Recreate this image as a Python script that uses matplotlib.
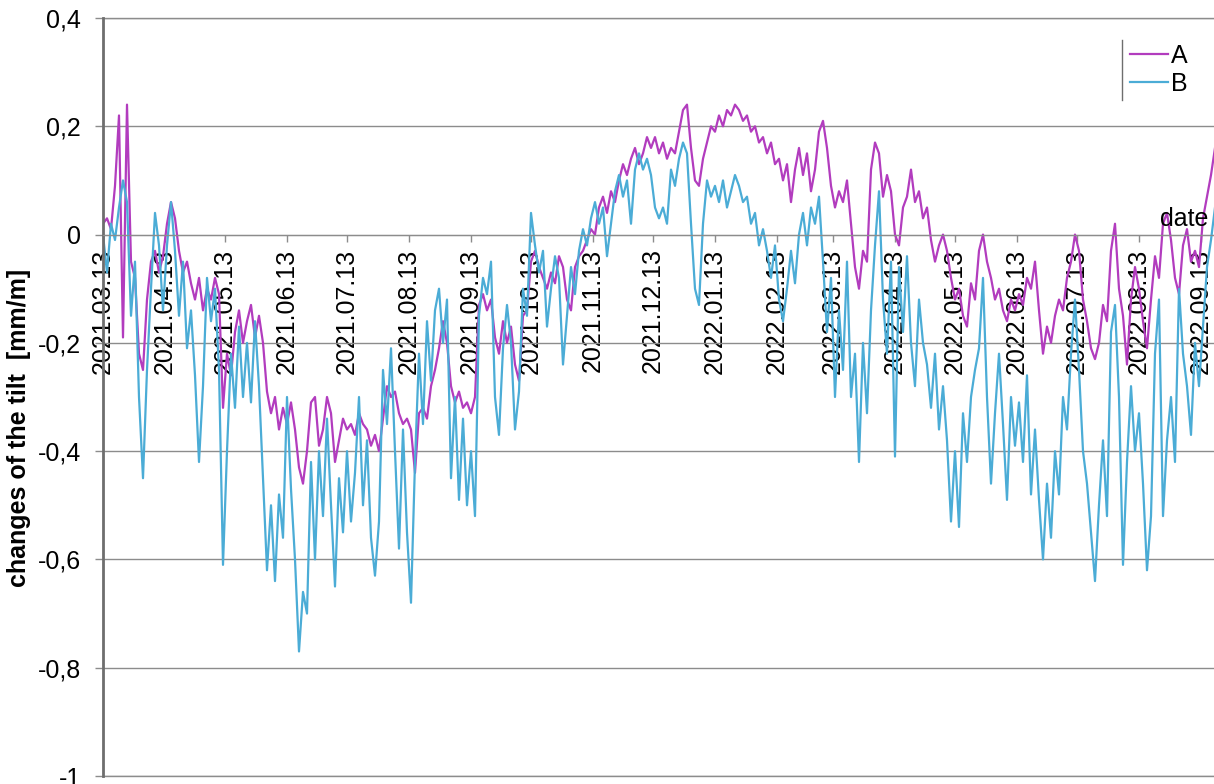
"""
tilt changes of sensors A and B, 2021.03 - 2022.09
"""
import numpy as np
import matplotlib
matplotlib.use('Agg')
import matplotlib.pyplot as plt
import matplotlib.dates as mdates
import matplotlib.transforms as mtransforms

plt.rcParams['font.family'] = ['Liberation Sans', 'DejaVu Sans']
FONTSIZE = 18

# one reading every STEP_DAYS days, starting at START
START = np.datetime64('2021-03-13')
STEP_DAYS = 2

tilt_A = [0.02, 0.03, 0.01, 0.09, 0.22, -0.19, 0.24, -0.05, -0.08, -0.22, -0.25, -0.12, -0.05, -0.03, -0.07, -0.04,
          0.02, 0.06, 0.03, -0.03, -0.07, -0.05, -0.09, -0.12, -0.08, -0.14, -0.10, -0.12, -0.08, -0.11, -0.32,
          -0.22, -0.26, -0.18, -0.14, -0.20, -0.16, -0.13, -0.19, -0.15, -0.20, -0.29, -0.33, -0.30, -0.36, -0.32,
          -0.35, -0.31, -0.36, -0.43, -0.46, -0.40, -0.31, -0.30, -0.39, -0.36, -0.30, -0.33, -0.42, -0.38, -0.34,
          -0.36, -0.35, -0.37, -0.33, -0.35, -0.36, -0.39, -0.37, -0.40, -0.34, -0.28, -0.30, -0.29, -0.33, -0.35,
          -0.34, -0.36, -0.44, -0.33, -0.32, -0.34, -0.28, -0.25, -0.21, -0.16, -0.20, -0.28, -0.31, -0.29, -0.32,
          -0.31, -0.33, -0.30, -0.13, -0.11, -0.14, -0.12, -0.19, -0.22, -0.16, -0.20, -0.17, -0.24, -0.27, -0.15,
          -0.14, -0.05, -0.03, -0.06, -0.08, -0.10, -0.07, -0.09, -0.04, -0.06, -0.12, -0.14, -0.06, -0.04, -0.03,
          -0.01, 0.01, 0.00, 0.05, 0.07, 0.04, 0.08, 0.06, 0.10, 0.13, 0.11, 0.14, 0.16, 0.13, 0.15,
          0.18, 0.16, 0.18, 0.15, 0.17, 0.14, 0.16, 0.15, 0.19, 0.23, 0.24, 0.16, 0.10, 0.09, 0.14,
          0.17, 0.20, 0.19, 0.22, 0.20, 0.23, 0.22, 0.24, 0.23, 0.21, 0.22, 0.19, 0.20, 0.17, 0.18,
          0.15, 0.17, 0.13, 0.14, 0.10, 0.13, 0.06, 0.12, 0.16, 0.11, 0.15, 0.08, 0.12, 0.19, 0.21,
          0.16, 0.09, 0.05, 0.08, 0.06, 0.10, 0.02, -0.06, -0.10, -0.03, -0.05, 0.12, 0.17, 0.15, 0.07,
          0.11, 0.08, 0.00, -0.02, 0.05, 0.07, 0.12, 0.06, 0.08, 0.03, 0.05, -0.01, -0.05, -0.02, 0.00,
          -0.03, -0.08, -0.12, -0.10, -0.15, -0.17, -0.09, -0.12, -0.03, 0.00, -0.05, -0.08, -0.12, -0.10, -0.14,
          -0.16, -0.12, -0.14, -0.11, -0.13, -0.08, -0.10, -0.05, -0.14, -0.22, -0.17, -0.20, -0.15, -0.12, -0.14,
          -0.08, -0.05, 0.00, -0.03, -0.12, -0.16, -0.21, -0.23, -0.20, -0.13, -0.16, -0.03, 0.02, -0.10, -0.15,
          -0.24, -0.12, -0.06, -0.10, -0.16, -0.21, -0.12, -0.04, -0.08, 0.02, 0.04, -0.01, -0.08, -0.11, -0.02,
          0.01, -0.05, -0.03, -0.06, 0.03, 0.07, 0.11, 0.16]

tilt_B = [0.00, -0.07, 0.02, -0.01, 0.05, 0.10, 0.06, -0.15, -0.05, -0.30, -0.45, -0.25, -0.10, 0.04, -0.02, -0.14,
          -0.02, 0.06, -0.03, -0.15, -0.05, -0.21, -0.14, -0.26, -0.42, -0.28, -0.08, -0.16, -0.10, -0.25, -0.61,
          -0.40, -0.22, -0.32, -0.17, -0.30, -0.20, -0.31, -0.16, -0.28, -0.45, -0.62, -0.50, -0.64, -0.48, -0.56,
          -0.30, -0.47, -0.60, -0.77, -0.66, -0.70, -0.42, -0.60, -0.40, -0.52, -0.34, -0.50, -0.65, -0.45, -0.55,
          -0.40, -0.53, -0.44, -0.30, -0.50, -0.38, -0.56, -0.63, -0.53, -0.25, -0.35, -0.21, -0.40, -0.58, -0.36,
          -0.55, -0.68, -0.42, -0.22, -0.35, -0.16, -0.27, -0.14, -0.10, -0.20, -0.12, -0.45, -0.30, -0.49, -0.34,
          -0.50, -0.40, -0.52, -0.15, -0.08, -0.11, -0.05, -0.30, -0.37, -0.21, -0.13, -0.20, -0.36, -0.29, -0.10,
          -0.15, 0.04, -0.02, -0.07, -0.03, -0.17, -0.10, -0.04, -0.08, -0.24, -0.15, -0.06, -0.11, -0.03, 0.01,
          -0.02, 0.03, 0.06, 0.02, 0.05, -0.04, 0.02, 0.08, 0.11, 0.07, 0.10, 0.02, 0.12, 0.15, 0.12,
          0.14, 0.11, 0.05, 0.03, 0.05, 0.02, 0.12, 0.09, 0.14, 0.17, 0.15, 0.02, -0.10, -0.13, 0.02,
          0.10, 0.07, 0.09, 0.06, 0.10, 0.05, 0.08, 0.11, 0.09, 0.06, 0.07, 0.02, 0.04, -0.02, 0.01,
          -0.03, -0.08, -0.02, -0.12, -0.16, -0.10, -0.03, -0.09, 0.00, 0.04, -0.02, 0.05, 0.02, 0.07, -0.05,
          -0.18, -0.08, -0.30, -0.14, -0.25, -0.05, -0.30, -0.22, -0.42, -0.20, -0.33, -0.14, -0.02, 0.08, -0.12,
          -0.22, -0.05, -0.41, -0.06, -0.18, -0.04, -0.20, -0.28, -0.12, -0.20, -0.24, -0.32, -0.22, -0.36, -0.28,
          -0.38, -0.53, -0.40, -0.54, -0.33, -0.42, -0.30, -0.25, -0.21, -0.08, -0.30, -0.46, -0.33, -0.22, -0.35,
          -0.49, -0.30, -0.39, -0.31, -0.42, -0.26, -0.48, -0.36, -0.49, -0.60, -0.46, -0.56, -0.40, -0.48, -0.30,
          -0.36, -0.22, -0.12, -0.25, -0.40, -0.46, -0.55, -0.64, -0.50, -0.38, -0.52, -0.18, -0.13, -0.30, -0.61,
          -0.42, -0.28, -0.40, -0.33, -0.46, -0.62, -0.52, -0.22, -0.12, -0.52, -0.38, -0.30, -0.42, -0.10, -0.22,
          -0.28, -0.37, -0.20, -0.28, -0.17, -0.06, -0.01, 0.05]

y_ticks = [-1, -0.8, -0.6, -0.4, -0.2, 0, 0.2, 0.4]
y_ticklabels = ['-1', '-0,8', '-0,6', '-0,4', '-0,2', '0', '0,2', '0,4']

GRAY = '#8c8c8c'

dates = START + np.arange(len(tilt_A)) * np.timedelta64(STEP_DAYS, 'D')

fig = plt.figure(figsize=(12.14, 7.84), dpi=100)
ax = fig.add_axes([103/1214, 8/784, 1111/1214, 758/784])

ax.plot(dates, tilt_A, color='#B23CBE', lw=1.6, label='A')
ax.plot(dates, tilt_B, color='#4BACD6', lw=1.6, label='B')

ax.set_ylim(-1, 0.4)
ax.set_xlim(mdates.date2num(START), mdates.date2num(START) + 555.5)

ax.set_yticks(y_ticks)
ax.set_yticklabels(y_ticklabels)
ax.grid(axis='y', color=GRAY, lw=1.0)
for yy in (-1, 0.4):
    ax.axhline(yy, color=GRAY, lw=1.0, clip_on=False)

ax.xaxis.set_major_locator(mdates.MonthLocator(bymonthday=13))
ax.xaxis.set_major_formatter(mdates.DateFormatter('%Y.%m.%d'))

ax.spines['bottom'].set_position(('data', 0))
ax.spines['bottom'].set_color(GRAY)
ax.spines['left'].set_color('#6e6e6e')
ax.spines['left'].set_linewidth(2)
ax.spines['top'].set_visible(False)
ax.spines['right'].set_visible(False)

ax.tick_params(axis='y', length=6, width=1, color=GRAY, labelsize=FONTSIZE, pad=10)
ax.tick_params(axis='x', length=5, width=1, color=GRAY, labelsize=FONTSIZE, pad=5,
               labelrotation=90)

fig.text(19/1214, 1 - 428/784, 'changes of the tilt  [mm/m]', rotation=90,
         ha='center', va='center', fontsize=FONTSIZE, fontweight='bold')

# legend: no frame, only a thin line on its left
ax.legend(loc='upper left', bbox_to_anchor=((1130-103)/1111, (776-44)/758),
          frameon=False, fontsize=FONTSIZE, handlelength=1.5, handletextpad=0.15,
          borderpad=0, borderaxespad=0, labelspacing=0.15)
ax.plot([0.917, 0.917], [0.892, 0.971], transform=ax.transAxes,
        color='#6e6e6e', lw=1, clip_on=False)

trans = mtransforms.blended_transform_factory(ax.transAxes, ax.transData)
ax.text((1208-103)/1111, 0.016, 'date', transform=trans, ha='right', va='baseline',
        fontsize=FONTSIZE)

fig.savefig('out.png', dpi=100)
